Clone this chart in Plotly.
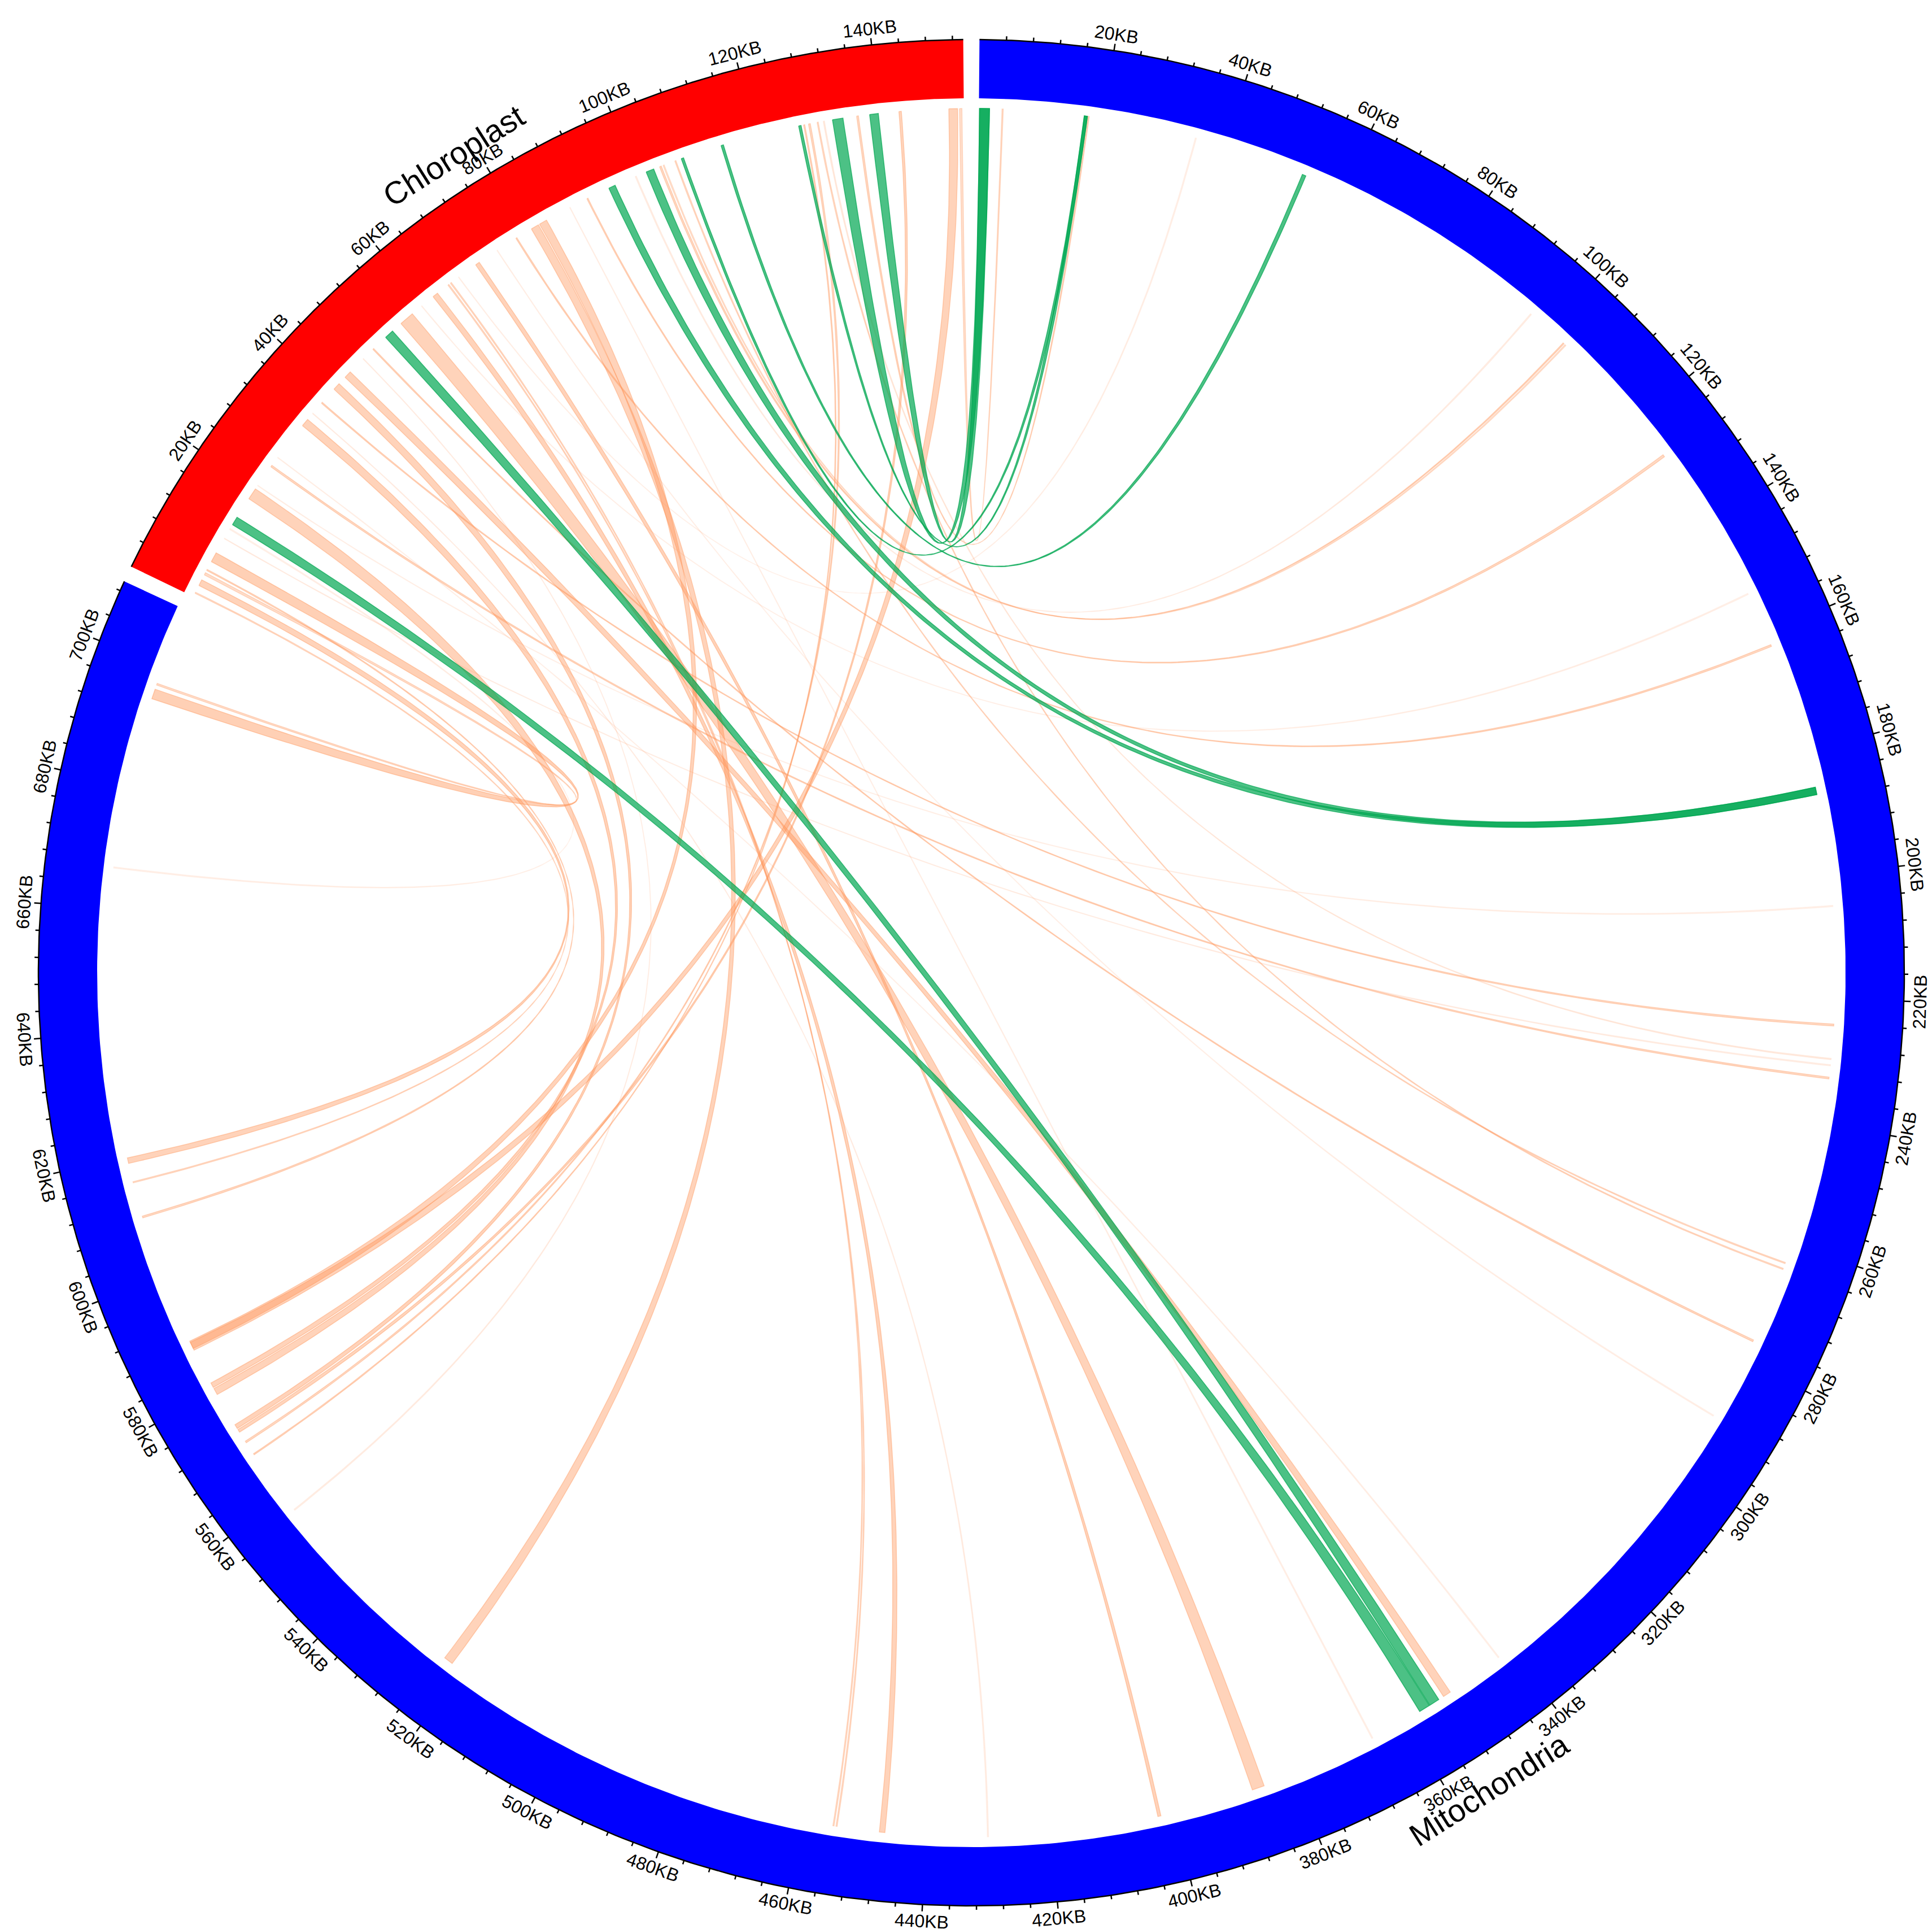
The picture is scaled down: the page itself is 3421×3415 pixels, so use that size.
import numpy as np
import plotly.graph_objects as go

# ---------------- data ----------------
seq_names = ["Mitochondria", "Chloroplast"]
seq_lengths_kb = [709.5, 153.6]
major_tick_kb = 20
minor_tick_kb = 4

# links: chloroplast region (KB) <-> mitochondria region (KB)
chl_start = [6.3, 3.9, 0.6, 2.0, 4.7, 12.2, 18.0, 24.2, 32.5, 37.2, 40.2, 42.8, 49.1, 55.2,
             61.9, 64.9, 65.4, 70.4, 78.1, 81.0, 82.5, 91.1, 99.6, 103.8, 104.4, 106.4,
             127.8, 128.6, 130.0, 131.0, 136.4, 143.2, 151.2, 152.9,
             20.5, 26.0, 35.0, 46.9, 59.5, 67.0, 74.5, 88.0, 10.5,
             138.5, 132.5, 127.0, 107.5, 114.2, 95.0, 101.5, 13.1, 51.9]
chl_end = [7.9, 4.3, 0.8, 3.0, 4.9, 12.4, 19.9, 24.5, 33.8, 37.4, 41.4, 44.0, 49.3, 57.6,
           62.8, 65.1, 65.6, 71.1, 78.3, 82.3, 83.8, 91.3, 99.8, 104.1, 104.6, 106.6,
           128.0, 128.9, 130.2, 131.2, 136.7, 143.6, 152.6, 153.3,
           20.6, 26.1, 35.1, 47.0, 59.6, 67.1, 74.6, 88.1, 10.6,
           139.9, 134.2, 127.4, 107.9, 114.6, 96.1, 102.8, 14.5, 53.4]
mt_start = [694.3, 696.6, 615.8, 619.0, 610.0, 666.5, 579.3, 232.5, 580.6, 224.0, 573.0, 351.6, 276.4, 385.0,
            446.6, 454.3, 454.8, 402.2, 162.0, 521.8, 587.6, 127.0, 96.0, 103.0, 103.4, 263.0,
            568.0, 570.3, 264.0, 229.5, 17.5, 572.3, 587.3, 3.7,
            205.0, 342.0, 430.0, 557.0, 153.0, 35.0, 290.0, 366.0, 230.5,
            0.1, 0.1, 16.9, 16.9, 53.1, 185.9, 185.9, 355.6, 353.8]
mt_end = [695.9, 696.9, 616.0, 619.9, 610.3, 666.7, 580.4, 232.8, 581.4, 224.3, 573.7, 352.9, 276.7, 387.0,
          447.5, 454.5, 455.0, 402.7, 162.3, 523.3, 588.9, 127.4, 96.2, 103.2, 103.6, 263.2,
          568.2, 570.6, 264.2, 229.7, 17.7, 572.8, 588.7, 3.9,
          205.2, 342.2, 430.2, 557.2, 153.2, 35.2, 290.2, 366.2, 230.7,
          1.7, 1.7, 17.4, 17.4, 53.7, 187.1, 187.1, 357.4, 355.5]
# link class: 'o' = similar fragment, 'g' = complete gene
link_class = ["o"] * 43 + ["g"] * 9
# relative strength of each link (drives opacity)
link_strength = [0.45, 0.32, 0.3, 0.42, 0.35, 0.1, 0.42, 0.35, 0.42, 0.35, 0.42, 0.42, 0.35, 0.42,
                 0.42, 0.3, 0.3, 0.42, 0.35, 0.42, 0.42, 0.35, 0.12, 0.35, 0.25, 0.3,
                 0.35, 0.35, 0.3, 0.15, 0.35, 0.4, 0.42, 0.3,
                 0.1, 0.1, 0.12, 0.12, 0.1, 0.1, 0.1, 0.1, 0.12,
                 0.7, 0.7, 0.7, 0.7, 0.7, 0.7, 0.7, 0.7, 0.7]

# ---------------- geometry / style ----------------
W, H = 3421, 3415
CX, CY = 1712, 1714
R_OUT, R_IN, R_LINK = 1652, 1548, 1530
GAP = 1.0
SEG_COLORS = ["#0000FF", "#FF0000"]
ORANGE = (255, 150, 90)
GREEN = (0, 166, 81)
FONT = "Liberation Sans, Arial, sans-serif"

deg_per_kb = (360.0 - 2 * GAP) / sum(seq_lengths_kb)
seg_start = [GAP / 2, GAP / 2 + seq_lengths_kb[0] * deg_per_kb + GAP]


def ang(seg, pos):
    return seg_start[seg] + pos * deg_per_kb


def pol(theta, r):
    t = np.radians(theta)
    return r * np.sin(t), r * np.cos(t)


def facing(theta):
    ta = theta if (theta <= 90 or theta >= 270) else theta - 180
    if ta > 180:
        ta -= 360
    return ta


fig = go.Figure()

# ---- links ----
def ribbon(c1, c2, m1, m2):
    a1, a2 = ang(1, c1), ang(1, c2)
    b1, b2 = ang(0, m1), ang(0, m2)
    xs, ys = [], []
    th = np.linspace(a1, a2, max(3, int((a2 - a1) * 6) + 3))
    x, y = pol(th, R_LINK); xs += list(x); ys += list(y)
    t = np.linspace(0, 1, 160)
    p0 = pol(a2, R_LINK); p2 = pol(b1, R_LINK)
    xs += list((1 - t) ** 2 * p0[0] + t ** 2 * p2[0]); ys += list((1 - t) ** 2 * p0[1] + t ** 2 * p2[1])
    th = np.linspace(b1, b2, max(3, int((b2 - b1) * 6) + 3))
    x, y = pol(th, R_LINK); xs += list(x); ys += list(y)
    p0 = pol(b2, R_LINK); p2 = pol(a1, R_LINK)
    xs += list((1 - t) ** 2 * p0[0] + t ** 2 * p2[0]); ys += list((1 - t) ** 2 * p0[1] + t ** 2 * p2[1])
    return xs, ys


order = sorted(range(len(chl_start)), key=lambda i: (link_class[i] == "g", link_strength[i]))
for i in order:
    xs, ys = ribbon(chl_start[i], chl_end[i], mt_start[i], mt_end[i])
    base = GREEN if link_class[i] == "g" else ORANGE
    col = "rgba(%d,%d,%d,%.3f)" % (base + (link_strength[i],))
    fig.add_trace(go.Scatter(x=xs, y=ys, mode="lines", fill="toself", fillcolor=col,
                             line=dict(color=col, width=1.5), hoverinfo="skip"))

# ---- ideogram ring ----
for s in range(2):
    a0, a1 = ang(s, 0), ang(s, seq_lengths_kb[s])
    th = np.linspace(a0, a1, 600)
    xo, yo = pol(th, R_OUT)
    xi, yi = pol(th[::-1], R_IN)
    fig.add_trace(go.Scatter(x=list(xo) + list(xi) + [xo[0]], y=list(yo) + list(yi) + [yo[0]],
                             mode="lines", fill="toself", fillcolor=SEG_COLORS[s],
                             line=dict(color=SEG_COLORS[s], width=0), hoverinfo="skip"))
    fig.add_trace(go.Scatter(x=xo, y=yo, mode="lines", line=dict(color="black", width=2.5),
                             hoverinfo="skip"))
    # ticks
    tx, ty = [], []
    pos = minor_tick_kb
    while pos < seq_lengths_kb[s]:
        major = abs(pos % major_tick_kb) < 1e-6
        L = 12 if major else 7
        x0, y0 = pol(ang(s, pos), R_OUT)
        x1, y1 = pol(ang(s, pos), R_OUT + L)
        tx += [x0, x1, None]; ty += [y0, y1, None]
        if major:
            th_l = ang(s, pos)
            lx, ly = pol(th_l, R_OUT + 29)
            fig.add_annotation(x=lx, y=ly, text="%dKB" % pos, showarrow=False, textangle=facing(th_l),
                               xanchor="center", yanchor="middle",
                               font=dict(family=FONT, size=32, color="black"))
        pos += minor_tick_kb
    fig.add_trace(go.Scatter(x=tx, y=ty, mode="lines", line=dict(color="black", width=2.5),
                             hoverinfo="skip"))
    # sector name
    th_n = ang(s, seq_lengths_kb[s] / 2)
    nx, ny = pol(th_n, R_OUT + 60)
    fig.add_annotation(x=nx, y=ny, text=seq_names[s], showarrow=False, textangle=facing(th_n),
                       xanchor="center", yanchor="middle",
                       font=dict(family=FONT, size=56, color="black"))

fig.update_layout(width=W, height=H, autosize=False, showlegend=False,
                  margin=dict(l=0, r=0, t=0, b=0),
                  paper_bgcolor="white", plot_bgcolor="white",
                  xaxis=dict(visible=False, range=[-CX, W - CX], fixedrange=True),
                  yaxis=dict(visible=False, range=[CY - H, CY], fixedrange=True))
fig.write_html("out.html")
